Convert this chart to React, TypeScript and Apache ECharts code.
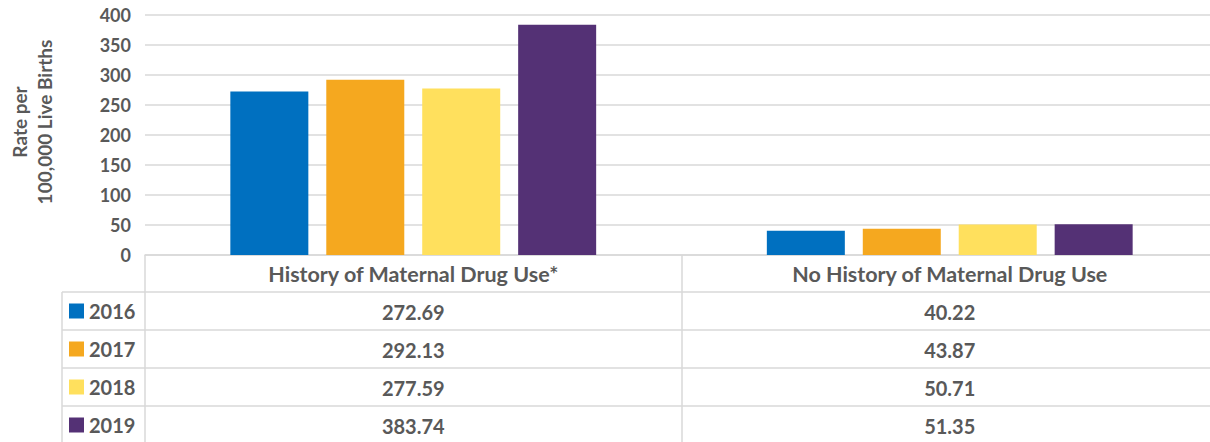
import React, { useEffect, useRef } from "react";
import * as echarts from "echarts";

const categories = ["History of Maternal Drug Use*", "No History of Maternal Drug Use"];
const years = ["2016", "2017", "2018", "2019"];
const values2016 = [272.69, 40.22];
const values2017 = [292.13, 43.87];
const values2018 = [277.59, 50.71];
const values2019 = [383.74, 51.35];
const seriesValues = [values2016, values2017, values2018, values2019];
const colors = ["#0070C0", "#F5A81F", "#FFE05D", "#543175"];
const yMin = 0;
const yMax = 400;
const yInterval = 50;
const yTitle = "Rate per\n100,000 Live Births";

const FONT = "Lato";
const TEXT = "#595959";
const LINE = "#d9d9d9";

export default function App() {
  const ref = useRef<HTMLDivElement>(null);
  useEffect(() => {
    if (!ref.current) return;
    const chart = echarts.init(ref.current, null, { renderer: "svg" });
    const gridTop = 15;
    const gridBottomY = 255;
    const rowH = 38;
    const headerH = 37;
    const tableLeft = 62;
    const gridLeft = 145;

    const rowAxes = seriesValues.map((vals, i) => ({
      type: "category",
      gridIndex: 0,
      position: "bottom",
      offset: headerH + rowH * i,
      data: vals.map((v) => v.toFixed(2)),
      axisLine: { show: true, onZero: false, lineStyle: { color: LINE, width: 1.5 } },
      axisTick: { show: false },
      splitLine: { show: false },
      axisLabel: {
        interval: 0,
        margin: 10,
        fontFamily: FONT,
        fontSize: 20,
        fontWeight: "bold",
        color: TEXT,
      },
    }));

    const graphics: any[] = [];
    graphics.push({
      type: "line",
      shape: { x1: tableLeft, y1: gridBottomY + headerH, x2: tableLeft, y2: 442 },
      style: { stroke: LINE, lineWidth: 1.5 },
    });
    years.forEach((_, i) => {
      const y = gridBottomY + headerH + rowH * i;
      graphics.push({
        type: "line",
        shape: { x1: tableLeft, y1: y, x2: gridLeft, y2: y },
        style: { stroke: LINE, lineWidth: 1.5 },
      });
    });

    chart.setOption({
      animation: false,
      grid: {
        left: gridLeft,
        right: 2,
        top: gridTop,
        bottom: 442 - gridBottomY,
        containLabel: false,
        outerBoundsMode: "none",
      },
      legend: {
        data: years,
        orient: "vertical",
        left: 69,
        top: 301,
        padding: 0,
        itemWidth: 15,
        itemHeight: 15,
        itemGap: 18,
        selectedMode: false,
        icon: "rect",
        textStyle: { fontFamily: FONT, fontSize: 20, fontWeight: "bold", color: TEXT, lineHeight: 20 },
      },
      xAxis: [
        {
          type: "category",
          gridIndex: 0,
          position: "bottom",
          data: categories,
          axisLine: { show: true, lineStyle: { color: LINE, width: 1.5 } },
          axisTick: { show: true, length: 190, lineStyle: { color: LINE, width: 1.5 } },
          splitLine: { show: false },
          axisLabel: {
            interval: 0,
            margin: 8,
            fontFamily: FONT,
            fontSize: 21.5,
            fontWeight: "bold",
            color: TEXT,
          },
        },
        ...rowAxes,
      ],
      yAxis: {
        type: "value",
        min: yMin,
        max: yMax,
        interval: yInterval,
        name: yTitle,
        nameLocation: "middle",
        nameGap: 88,
        nameTextStyle: {
          fontFamily: FONT,
          fontSize: 19,
          fontWeight: "bold",
          color: TEXT,
          lineHeight: 25,
          padding: [0, 0, 0, 26],
        },
        axisLine: { show: false },
        axisTick: { show: false },
        splitLine: { show: true, lineStyle: { color: LINE, width: 1.5 } },
        axisLabel: { margin: 14, fontFamily: FONT, fontSize: 18, fontWeight: "bold", color: TEXT },
      },
      series: seriesValues.map((vals, i) => ({
        type: "bar",
        name: years[i],
        data: vals,
        xAxisIndex: 0,
        yAxisIndex: 0,
        barWidth: 78,
        barGap: "23%",
        itemStyle: { color: colors[i] },
      })),
      graphic: graphics,
    });
    return () => chart.dispose();
  }, []);

  return (
    <div style={{ position: "absolute", left: 0, top: 0, width: 1210, height: 442, overflow: "hidden", background: "#fff" }}>
      <div ref={ref} style={{ width: 1220, height: 442 }} />
    </div>
  );
}
